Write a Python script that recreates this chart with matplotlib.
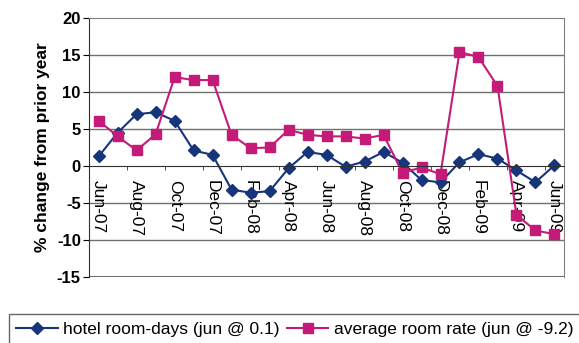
import matplotlib.pyplot as plt
import numpy as np

plt.rcParams['font.family'] = ['Liberation Sans', 'DejaVu Sans']
plt.rcParams['axes.unicode_minus'] = False

months = ['Jun-07', 'Jul-07', 'Aug-07', 'Sep-07', 'Oct-07', 'Nov-07', 'Dec-07',
          'Jan-08', 'Feb-08', 'Mar-08', 'Apr-08', 'May-08', 'Jun-08', 'Jul-08',
          'Aug-08', 'Sep-08', 'Oct-08', 'Nov-08', 'Dec-08', 'Jan-09', 'Feb-09',
          'Mar-09', 'Apr-09', 'May-09', 'Jun-09']

room_days = [1.3, 4.5, 7.0, 7.25, 6.1, 2.1, 1.5, -3.2, -3.6, -3.4, -0.3, 1.9,
             1.5, -0.1, 0.6, 1.9, 0.45, -1.9, -2.2, 0.5, 1.6, 1.0, -0.6, -2.2, 0.1]

room_rate = [6.1, 4.0, 2.1, 4.3, 12.0, 11.6, 11.6, 4.2, 2.4, 2.5, 4.9, 4.2,
             4.0, 4.0, 3.7, 4.2, -0.9, -0.2, -1.1, 15.4, 14.7, 10.8, -6.6, -8.7, -9.2]

blue = '#16357a'
pink = '#c41a78'

fig = plt.figure(figsize=(5.79, 3.43), dpi=100)
ax = fig.add_axes([0.154, 0.192, 0.82, 0.756])

x = np.arange(len(months))
ax.plot(x, room_days, color=blue, lw=1.5, marker='D', ms=6,
        label='hotel room-days (jun @ 0.1)')
ax.plot(x, room_rate, color=pink, lw=1.5, marker='s', ms=7.5,
        label='average room rate (jun @ -9.2)')

ax.set_xlim(-0.5, len(months) - 0.5)
ax.set_ylim(-15, 20)
ax.set_yticks(range(-15, 21, 5))
for v in (-10, -5, 5, 10, 15):
    ax.axhline(v, color='#707070', lw=1, zorder=0)
ax.axhline(-15, color='#707070', lw=1.5, zorder=0)

# category axis sits on zero, labels every other month
ax.spines['bottom'].set_position(('data', 0))
ax.spines['bottom'].set_color('#303030')
ax.spines['left'].set_color('#303030')
for s in ('top', 'right'):
    ax.spines[s].set_color('#808080')
ax.set_xticks(x[::2])
ax.set_xticklabels(months[::2], rotation=-90, fontsize=12.5)
ax.tick_params(axis='x', length=0, pad=10)
ax.set_xticks(np.arange(-0.5, len(months), 2), minor=True)
ax.tick_params(axis='x', which='minor', length=3, direction='out', color='#303030')
for lab in ax.get_xticklabels():
    lab.set_verticalalignment('top')

ax.tick_params(axis='y', length=4, direction='out', labelsize=12, pad=2)
for lab in ax.get_yticklabels():
    lab.set_fontweight('bold')
ax.set_ylabel('% change from prior year', fontsize=12.5, fontweight='bold', labelpad=5)

leg = fig.legend(loc='lower left', bbox_to_anchor=(0.0, -0.03), ncol=2,
                 fontsize=12.5, frameon=True, fancybox=False, edgecolor='#404040',
                 handlelength=2.4, columnspacing=0.4, handletextpad=0.3,
                 borderpad=0.45)
leg.get_frame().set_linewidth(1.0)

fig.savefig('out.png', dpi=100)
